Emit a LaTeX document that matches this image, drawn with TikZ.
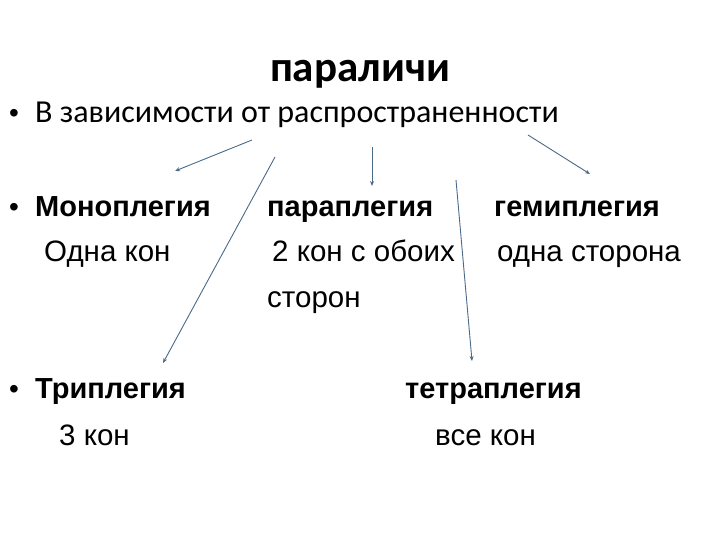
\documentclass[tikz,border=0pt]{standalone}
\usepackage{fontspec}
\setmainfont{Liberation Sans}
\newfontfamily\calfont{Carlito}
\usetikzlibrary{arrows.meta}
\tikzset{
  lbl/.style={anchor=base west, inner sep=0pt, font=\fontsize{29.5}{32}\selectfont},
  blbl/.style={anchor=base west, inner sep=0pt, font=\fontsize{29}{32}\selectfont\bfseries},
  bul/.style={anchor=base west, inner sep=0pt, font=\fontsize{28}{30}\selectfont},
  arr/.style={draw=arrowcol, line width=0.9pt, -{Stealth[length=5pt,width=4pt]}}
}
\definecolor{arrowcol}{HTML}{4A6A88}
\begin{document}
\begin{tikzpicture}[x=1pt,y=-1pt]
\useasboundingbox (0,0) rectangle (720,540);
\node[anchor=base, inner sep=0pt, font=\calfont\fontsize{43}{46}\selectfont\bfseries] (title) at (360,82) {параличи};
\node[bul] (b0) at (9,123) {•};
\node[anchor=base west, inner sep=0pt, font=\calfont\fontsize{32}{34}\selectfont] (sub) at (35,123) {В зависимости от распространенности};
\node[bul] (b1) at (9,217) {•};
\node[blbl] (mono) at (35,217) {Моноплегия};
\node[lbl] (monot) at (44,261) {Одна кон};
\node[blbl] (para) at (267,217) {параплегия};
\node[lbl] (parat) at (272,261) {2 кон с обоих};
\node[lbl] (parat2) at (267,307) {сторон};
\node[blbl] (hemi) at (494,217) {гемиплегия};
\node[lbl] (hemit) at (497,261) {одна сторона};
\node[bul] (b2) at (9,398) {•};
\node[blbl] (tri) at (35,398) {Триплегия};
\node[lbl] (trit) at (59,445) {3 кон};
\node[blbl] (tetra) at (405,398) {тетраплегия};
\node[lbl] (tetrat) at (435,445) {все кон};
\coordinate (s1) at (252,140); \coordinate (e1) at (175,171);
\coordinate (s2) at (275,157); \coordinate (e2) at (163,363);
\coordinate (s3) at (372,147); \coordinate (e3) at (372,186);
\coordinate (s4) at (528,135); \coordinate (e4) at (590,174);
\coordinate (s5) at (456,180); \coordinate (e5) at (472,361);
\draw[arr] (s1) -- (e1);
\draw[arr] (s2) -- (e2);
\draw[arr] (s3) -- (e3);
\draw[arr] (s4) -- (e4);
\draw[arr] (s5) -- (e5);
\end{tikzpicture}
\end{document}
